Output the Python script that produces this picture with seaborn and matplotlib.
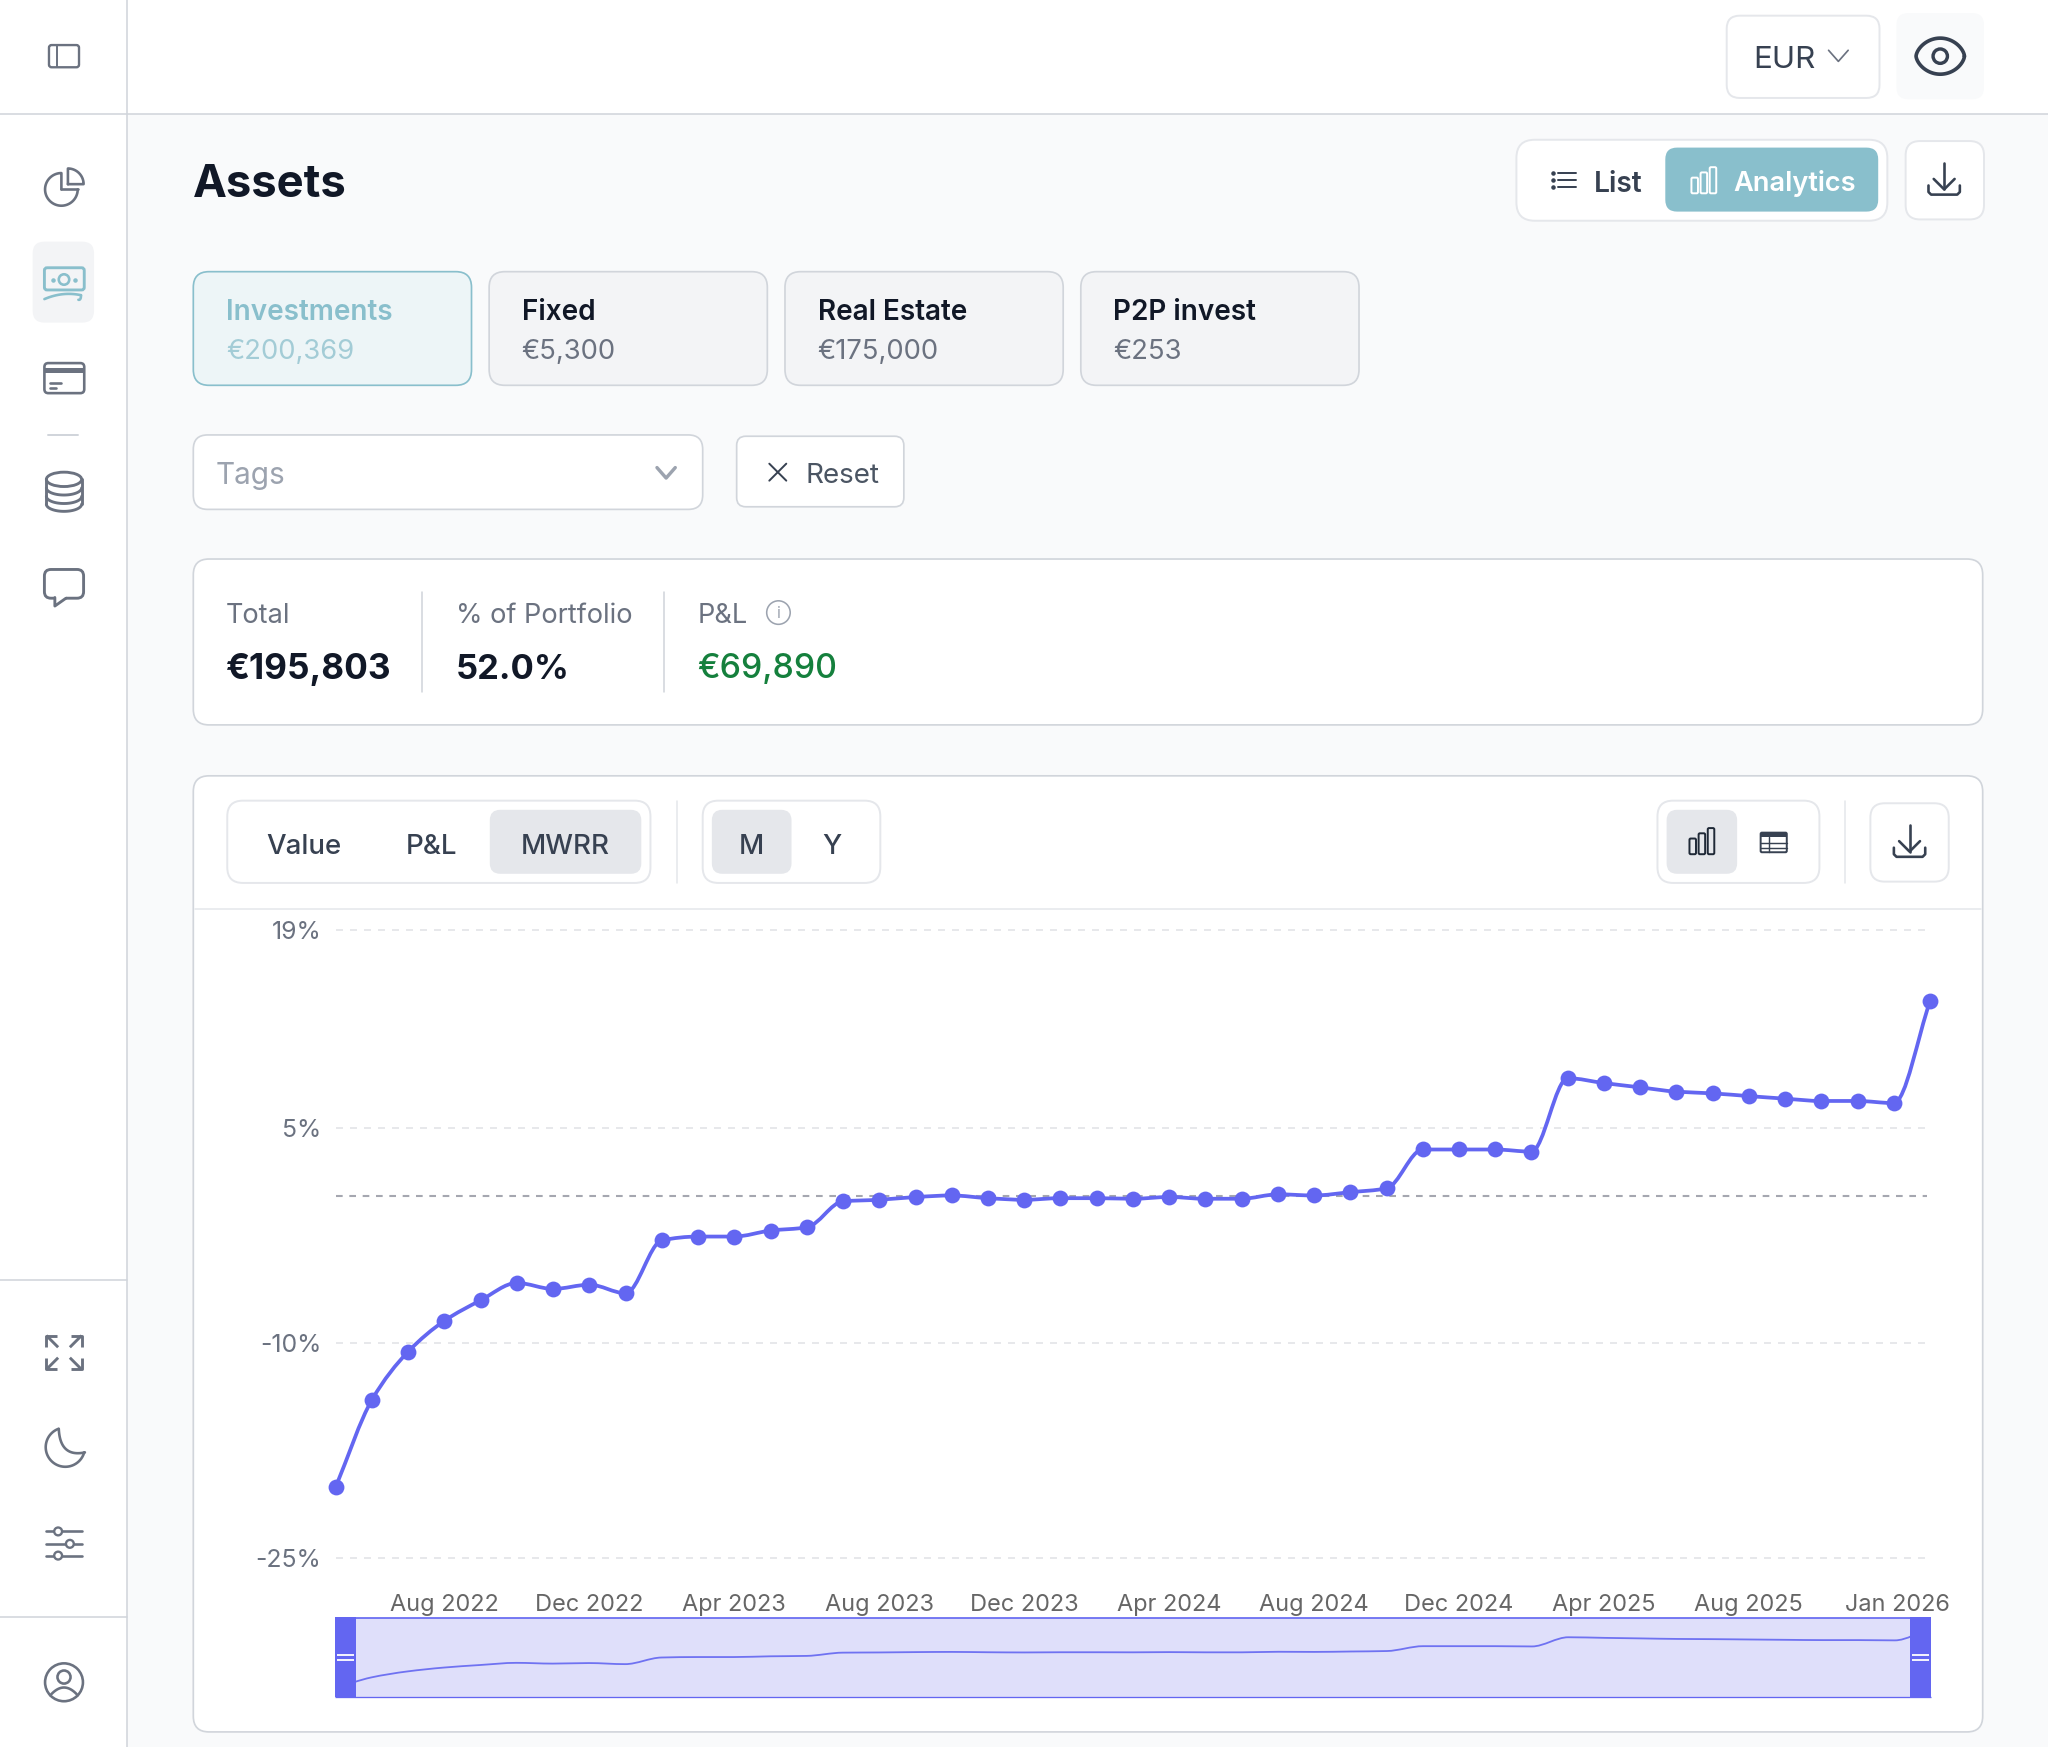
import numpy as np
import pandas as pd
import matplotlib
matplotlib.use("Agg")
import matplotlib.pyplot as plt
import seaborn as sns
from matplotlib.patches import FancyBboxPatch, Rectangle, Circle, Ellipse, PathPatch
from matplotlib.path import Path
from matplotlib.transforms import ScaledTranslation

# ---------- data ----------
months = list(pd.date_range("2022-05-01", periods=45, freq="MS").strftime("%b %Y"))
mwrr_values = [-20.02, -13.94, -10.58, -8.43, -7.00, -5.79, -6.21, -5.91, -6.51,
               -2.81, -2.55, -2.55, -2.13, -1.91, -0.09, 0.02, 0.21, 0.32, 0.13,
               0.02, 0.13, 0.13, 0.09, 0.21, 0.09, 0.09, 0.40, 0.32, 0.55, 0.81,
               3.53, 3.53, 3.53, 3.38, 8.51, 8.17, 7.87, 7.57, 7.45, 7.26, 7.08,
               6.92, 6.92, 6.77, 13.87]
x_tick_labels = ["Aug 2022", "Dec 2022", "Apr 2023", "Aug 2023", "Dec 2023", "Apr 2024",
                 "Aug 2024", "Dec 2024", "Apr 2025", "Aug 2025", "Jan 2026"]
y_tick_values = [-25, -10, 5, 18.86]
y_tick_labels = ["-25%", "-10%", "5%", "19%"]
reference_level = 0.3
asset_tabs = ["Investments", "Fixed", "Real Estate", "P2P invest"]
asset_totals = ["€200,369", "€5,300", "€175,000", "€253"]

# ---------- theme ----------
sns.set_theme(style="white")
plt.rcParams["font.family"] = ["Inter", "DejaVu Sans"]

W, H = 2048, 1747
S = W / 1568
INK = "#111827"; GRAY = "#6B7280"; DARK = "#374151"; BORDER = "#D1D5DB"; SOFT = "#E5E7EB"
TEAL = "#89BFCC"; INDIGO = "#6366F1"

fig = plt.figure(figsize=(W / 100, H / 100), dpi=100, facecolor="#F9FAFB")

def make_axes(l, t, r, b, z):
    a = fig.add_axes([l / W, 1 - b / H, (r - l) / W, (b - t) / H], zorder=z)
    a.patch.set_alpha(0)
    return a

ui = make_axes(0, 0, W, H, 0)
ui.set_xlim(0, W / S); ui.set_ylim(H / S, 0); ui.axis("off")
top = make_axes(0, 0, W, H, 5)
top.set_xlim(0, W / S); top.set_ylim(H / S, 0); top.axis("off")

fp = lambda px: px * S * 0.72

def rbox(x0, y0, x1, y1, r=10, fc="white", ec=BORDER, lw=1.2, ax=ui, z=2):
    ax.add_patch(FancyBboxPatch((x0 + r, y0 + r), x1 - x0 - 2 * r, y1 - y0 - 2 * r,
                                boxstyle=f"round,pad={r},rounding_size={r}",
                                fc=fc, ec=ec if ec else "none", lw=fp(lw), zorder=z))

def txt(x, yc, s, size, color=INK, weight="normal", ha="left", ax=ui):
    ax.text(x, yc + 0.364 * size, s, fontsize=fp(size), color=color, fontweight=weight,
            ha=ha, va="baseline", zorder=6)

def pl(xs, ys, c=GRAY, lw=2.0, z=4, ax=ui, cap="round"):
    ax.plot(xs, ys, color=c, lw=fp(lw), zorder=z, solid_capstyle=cap, solid_joinstyle="round",
            scalex=False, scaley=False)

def arc(cx, cy, r, a0, a1, ry=None):
    t = np.radians(np.linspace(a0, a1, 60))
    ry = r if ry is None else ry
    return cx + r * np.cos(t), cy - ry * np.sin(t)

def ring(cx, cy, r, c=GRAY, lw=2.0, fc="none", z=4):
    ui.add_patch(Circle((cx, cy), r, fc=fc, ec=c, lw=fp(lw), zorder=z))

def quad(p0, p1, p2, c=GRAY, lw=2.0):
    t = np.linspace(0, 1, 40)[:, None]
    p = (1 - t) ** 2 * np.array(p0) + 2 * t * (1 - t) * np.array(p1) + t ** 2 * np.array(p2)
    pl(p[:, 0], p[:, 1], c, lw)

def bars_icon(x0, yb, c, lw=1.5):
    for i, h in enumerate([12, 16, 20]):
        rbox(x0 + i * 7, yb - h, x0 + i * 7 + 5, yb, r=1, fc="none", ec=c, lw=lw, z=5)

def download_icon(cx, cy, c=DARK):
    pl([cx, cx], [cy - 13, cy + 7], c, 2)
    pl([cx - 8, cx, cx + 8], [cy - 1, cy + 7, cy - 1], c, 2)
    pl([cx - 12, cx - 12, cx - 10, cx + 10, cx + 12, cx + 12],
       [cy + 4, cy + 9, cy + 11, cy + 11, cy + 9, cy + 4], c, 2)

# ---------- frame ----------
ui.add_patch(Rectangle((0, 0), W / S, 87, fc="white", ec="none", zorder=1))
ui.add_patch(Rectangle((0, 0), 97.5, H / S, fc="white", ec="none", zorder=1))
pl([97.5, 97.5], [0, H / S], BORDER, 1.2, z=3)
pl([0, W / S], [87, 87], BORDER, 1.2, z=3)
pl([0, 97.5], [980, 980], BORDER, 1.2, z=3)
pl([0, 97.5], [1238, 1238], BORDER, 1.2, z=3)

# ---------- sidebar icons ----------
rbox(37.5, 34.5, 60.5, 51.5, r=2, fc="none", ec=GRAY, lw=1.8, z=4)
pl([44, 44], [35, 51], GRAY, 1.5)
# pie
xa, ya = arc(47, 145, 12.5, 90, 360)
pl(np.r_[47, 47, xa], np.r_[145, 132.5, ya], GRAY)
pl([47, 59.5], [145, 145], GRAY)
xa, ya = arc(52, 141, 12, 0, 90)
pl(np.r_[52, xa, 52], np.r_[141, ya, 141], GRAY)
# banknotes
rbox(25, 185, 72, 247, r=9, fc="#F3F4F6", ec=None, z=2)
rbox(34, 205, 64.5, 222, r=2, fc="none", ec=TEAL, lw=2.2, z=4)
ring(49, 214, 4, TEAL)
ui.scatter([40.5, 57.5], [214, 214], s=5, c=TEAL, zorder=4)
quad((34, 229), (48, 223), (62, 226), TEAL, 2)
quad((62, 226), (62, 230), (60, 229.5), TEAL, 2)
# card
rbox(34, 278, 64.5, 301, r=3, fc="none", ec=GRAY, lw=2, z=4)
ui.add_patch(Rectangle((34, 282), 30.5, 3.5, fc=GRAY, ec="none", zorder=4))
pl([38, 47], [293, 293], GRAY)
pl([38, 43], [297, 297], GRAY)
pl([37, 60], [333, 333], BORDER, 1.5, z=3)
# database
ui.add_patch(Ellipse((49, 367), 27, 11, fc="none", ec=GRAY, lw=fp(2.2), zorder=4))
pl([35.5, 35.5], [367, 386], GRAY, 2.2)
pl([62.5, 62.5], [367, 386], GRAY, 2.2)
for yy in (373.5, 380, 386):
    xa, ya = arc(49, yy, 13.5, 180, 360, ry=5.5)
    pl(xa, ya, GRAY, 2.2)
# chat
rbox(34, 436, 64, 458, r=5, fc="white", ec=GRAY, lw=2.2, z=4)
ui.add_patch(Rectangle((42.5, 455), 8, 5, fc="white", ec="none", zorder=4.5))
pl([42, 42, 50.5], [457.5, 464, 458], GRAY, 2.2, z=5)
# expand
for sx, sy in ((-1, -1), (1, -1), (-1, 1), (1, 1)):
    c0, c1 = 49 + sx * 13.5, 1035.5 + sy * 13
    pl([c0 - sx * 8.5, c0, c0], [c1, c1, c1 - sy * 8.5], GRAY, 2.2, cap="butt")
    pl([c0, c0 - sx * 9], [c1, c1 - sy * 9], GRAY, 2.2, cap="butt")
# moon
xa, ya = arc(50, 1108, 15, 110, 345)
pl(xa, ya, GRAY, 2)
quad((45, 1094), (46, 1116), (65, 1112), GRAY, 2)
# sliders
for yy, xx in ((1172.5, 44.5), (1182, 53.5), (1191, 44.5)):
    pl([35.5, 62.5], [yy, yy], GRAY, 2)
    ring(xx, yy, 3, GRAY, 1.8, fc="white", z=5)
# user
ring(49, 1288, 14.5, GRAY, 2)
ring(49, 1284, 5, GRAY, 2)
quad((38.5, 1298), (49, 1286), (59.5, 1298), GRAY, 2)

# ---------- top bar ----------
rbox(1322, 12, 1439, 75, r=10, fc="white", ec=SOFT, lw=1.5)
txt(1342, 43.5, "EUR", 24, DARK)
pl([1400, 1407.5, 1415], [38.5, 47, 38.5], GRAY, 1.3)
rbox(1452, 10, 1519, 76, r=9, fc="#F9FAFB", ec=None)
t_eye = np.linspace(0, 2 * np.pi, 120)
pl(1485.5 + 18.5 * np.cos(t_eye),
   43 - 13.8 * np.sign(np.sin(t_eye)) * np.abs(np.sin(t_eye)) ** 1.25, DARK, 2.8)
ring(1485.5, 43, 5.5, DARK, 2.6)

# ---------- title row ----------
txt(148, 138.5, "Assets", 34.8, INK, "bold")
rbox(1161, 107, 1445, 169, r=14, fc="white", ec=SOFT, lw=1.5)
rbox(1275, 113, 1438, 162, r=9, fc=TEAL, ec=None, z=3)
for yy in (132.5, 138, 143.5):
    pl([1193, 1207], [yy, yy], DARK, 1.5)
    ui.scatter([1189], [yy], s=5, c=DARK, zorder=4)
txt(1220, 139, "List", 21.6, DARK, "semibold")
bars_icon(1295, 148, "white")
txt(1327, 139, "Analytics", 20.8, "white", "semibold")
rbox(1459, 108, 1519, 168, r=11, fc="white", ec=SOFT, lw=1.5)
download_icon(1488.5, 138)

# ---------- tabs ----------
for i, (name, val) in enumerate(zip(asset_tabs, asset_totals)):
    x0 = 148 + i * 226.5
    active = i == 0
    rbox(x0, 208, x0 + 213, 295, r=12, fc="#EDF5F7" if active else "#F3F4F6",
         ec=TEAL if active else BORDER, lw=1.3)
    txt(x0 + 25, 237, name, 21.4, TEAL if active else INK, "semibold")
    txt(x0 + 25, 267, val, 21, "#A3CCD6" if active else GRAY)

# ---------- filters ----------
rbox(148, 333, 538, 390, r=11, fc="white", ec=BORDER, lw=1.3)
txt(165, 362, "Tags", 22.8, "#9CA3AF")
pl([503, 510, 517], [358, 366, 358], "#9CA3AF", 2.6)
rbox(564, 334, 692, 388, r=7, fc="white", ec=BORDER, lw=1.3)
pl([589, 602], [355, 368], DARK, 1.5)
pl([589, 602], [368, 355], DARK, 1.5)
txt(617, 362, "Reset", 21.3, "#4B5563")

# ---------- summary ----------
rbox(148, 428, 1518, 555, r=12, fc="white", ec=BORDER, lw=1.3)
txt(173, 469.5, "Total", 20.8, GRAY)
txt(173, 510, "€195,803", 26.9, INK, "bold")
pl([323, 323], [453, 530], BORDER, 1.2)
txt(349, 469.5, "% of Portfolio", 20.8, GRAY)
txt(349, 510, "52.0%", 26.4, INK, "bold")
pl([508, 508], [453, 530], BORDER, 1.2)
txt(534, 469.5, "P&L", 20.8, GRAY)
ring(596, 469, 9, "#9CA3AF", 1.2)
ui.text(596, 469.5, "i", fontsize=fp(12), color="#9CA3AF", ha="center", va="center", zorder=6)
txt(534, 510, "€69,890", 25.9, "#15803D", "medium")

# ---------- chart card ----------
rbox(148, 594, 1518, 1326, r=12, fc="white", ec=BORDER, lw=1.3)
pl([149, 1517], [696, 696], SOFT, 1.2, z=3)
rbox(174, 613, 498, 676, r=12, fc="white", ec=SOFT, lw=1.5)
rbox(375, 620, 491, 669, r=8, fc=SOFT, ec=None, z=3)
txt(233, 646, "Value", 21.2, DARK, "medium", ha="center")
txt(330, 646, "P&L", 21.2, DARK, "medium", ha="center")
txt(433, 646, "MWRR", 21.2, DARK, "medium", ha="center")
pl([518, 518], [613, 676], SOFT, 1.2)
rbox(538, 613, 674, 676, r=12, fc="white", ec=SOFT, lw=1.5)
rbox(545, 620, 606, 669, r=8, fc=SOFT, ec=None, z=3)
txt(575.5, 646, "M", 21.2, DARK, "medium", ha="center")
txt(637, 646, "Y", 21.2, DARK, "medium", ha="center")
rbox(1269, 613, 1393, 676, r=12, fc="white", ec=SOFT, lw=1.5)
rbox(1276, 620, 1330, 669, r=8, fc=SOFT, ec=None, z=3)
bars_icon(1293.5, 654, "#1F2937")
rbox(1348, 637.5, 1368, 652.5, r=1, fc="none", ec=DARK, lw=1.5, z=5)
ui.add_patch(Rectangle((1348, 637.5), 20, 3, fc=DARK, ec="none", zorder=5))
pl([1348, 1368], [645.5, 645.5], DARK, 1.1)
pl([1348, 1368], [649.5, 649.5], DARK, 1.1)
pl([1354.5, 1354.5], [641, 652], DARK, 1.1)
pl([1412.5, 1412.5], [613, 676], SOFT, 1.2)
rbox(1432, 615, 1492, 675, r=11, fc="white", ec=SOFT, lw=1.5)
download_icon(1462, 645)


# ---------- smooth stroke built from the values ----------
def smooth_path(y):
    y = np.asarray(y, float)
    d = np.diff(y)
    m = np.zeros_like(y)
    for i in range(1, len(y) - 1):
        if d[i - 1] * d[i] > 0:
            m[i] = 2 * d[i - 1] * d[i] / (d[i - 1] + d[i])
    m[0], m[-1] = d[0], d[-1]
    verts, codes = [(0, y[0])], [Path.MOVETO]
    for i in range(len(y) - 1):
        verts += [(i + 1 / 3, y[i] + m[i] / 3), (i + 2 / 3, y[i + 1] - m[i + 1] / 3), (i + 1, y[i + 1])]
        codes += [Path.CURVE4] * 3
    return Path(verts, codes)


xs = np.arange(len(months))
df = pd.DataFrame({"x": xs, "mwrr": mwrr_values})

# ---------- main chart ----------
ax = make_axes(335.8, 930, 1930, 1558, 2)
sns.lineplot(data=df, x="x", y="mwrr", ax=ax, color=INDIGO, marker="o", markersize=11.4,
             markeredgewidth=0, linewidth=0, errorbar=None, zorder=5, clip_on=False)
ax.add_patch(PathPatch(smooth_path(mwrr_values), fc="none", ec=INDIGO, lw=2.7, zorder=4,
                       capstyle="round", joinstyle="round", clip_on=False))
ax.set_xlim(0, len(months) - 1)
ax.set_ylim(y_tick_values[0], y_tick_values[-1])
ax.axhline(reference_level, xmax=0.998, color="#A5A7B0", lw=1.5, dashes=(3.2, 3.2), zorder=3)
for v in y_tick_values:
    ax.axhline(v, xmax=0.998, color="#E7E8EB", lw=1.4, dashes=(3.6, 3.6), zorder=1, clip_on=False)
for s in ax.spines.values():
    s.set_visible(False)
ax.set_xlabel(""); ax.set_ylabel("")
ax.set_yticks(y_tick_values, y_tick_labels)
ax.set_xticks([months.index(l) for l in x_tick_labels], x_tick_labels)
ax.tick_params(axis="y", length=0, pad=10.5, labelsize=fp(19), labelcolor="#6B7280")
ax.tick_params(axis="x", length=0, pad=26, labelsize=fp(18), labelcolor="#666666")
last = ax.get_xticklabels()[-1]
last.set_ha("right")
last.set_transform(last.get_transform() + ScaledTranslation(20 / 100, 0, fig.dpi_scale_trans))

# ---------- range slider ----------
mini = make_axes(335, 1617.5, 1931, 1697.4, 3)
mini.add_patch(Rectangle((0, 0), 1, 1, transform=mini.transAxes, fc="#DFDFFA", ec="none", zorder=0))
mini.add_patch(PathPatch(smooth_path(mwrr_values), fc="none", ec=INDIGO, lw=1.3, zorder=2,
                         alpha=0.9))
mini.set_xlim(0, len(months) - 1)
mini.set_ylim(-25.1, 19.55)
mini.axis("off")

tl, tr = 335 / S, 1931 / S
tt, tb = 1617.5 / S, 1697.4 / S
pl([tl, tr], [tt + 0.6, tt + 0.6], INDIGO, 1.3, ax=top, cap="butt")
pl([tl, tr], [tb - 0.4, tb - 0.4], INDIGO, 1.0, ax=top, cap="butt")
hw = 21 / S
for x0 in (tl, tr - hw):
    top.add_patch(Rectangle((x0, tt), hw, tb - tt, fc=INDIGO, ec="none", zorder=6))
    cx = x0 + hw / 2
    for yy in (1655, 1660):
        pl([cx - 6.2, cx + 6.2], [yy / S, yy / S], "white", 1.4, z=7, ax=top, cap="butt")

fig.savefig("out.png", dpi=100, facecolor=fig.get_facecolor())
